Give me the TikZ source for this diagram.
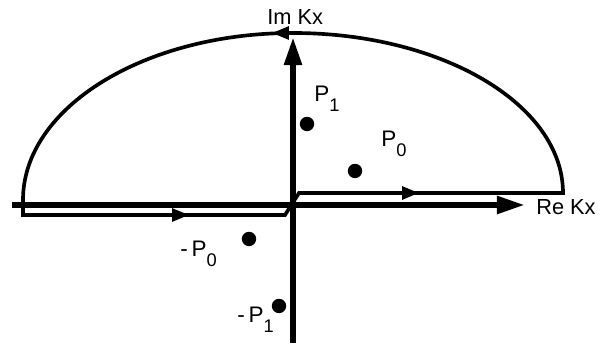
\documentclass[tikz,border=0pt]{standalone}
\usepackage{fontspec}
\setmainfont{Liberation Sans}
\usetikzlibrary{arrows.meta}

\tikzset{
    axis/.style={line width=4.2pt, -{Triangle[length=20pt, width=12pt]}},
    contour/.style={line width=2.6pt, line join=miter},
    flow/.style={line width=2.6pt, -{Triangle[length=12pt, width=9pt]}},
    pole/.style={circle, fill=black, inner sep=0pt, minimum size=0.36cm},
    axlabel/.style={font=\fontsize{15.5}{17}\selectfont, anchor=base west, inner sep=0pt},
    polelabel/.style={font=\fontsize{16}{18}\selectfont, anchor=base west, inner sep=0pt}
}
\newcommand{\polesub}[2]{#1P\raisebox{-7pt}{\fontsize{13}{13}\selectfont #2}}

\begin{document}
\begin{tikzpicture}[x=0.025cm, y=0.025cm]
    \useasboundingbox (0,0) rectangle (600,346);

    % Integration Contour
    \draw[contour] (299,153) -- (563,153)
        arc[start angle=0, end angle=90, x radius=270, y radius=160]
        arc[start angle=90, end angle=180, x radius=270, y radius=167]
        -- (23,131) -- (285,131) -- cycle;

    % Contour Direction Arrows
    \coordinate (lowA) at (170,131);
    \coordinate (lowB) at (189,131);
    \coordinate (upA) at (400,153);
    \coordinate (upB) at (419,153);
    \coordinate (topA) at (300,313);
    \coordinate (topB) at (272,313);
    \draw[flow] (lowA) -- (lowB);
    \draw[flow] (upA) -- (upB);
    \draw[flow] (topA) -- (topB);

    % Axes
    \coordinate (reLeft) at (12,141);
    \coordinate (reRight) at (525,141);
    \coordinate (imBottom) at (293,3);
    \coordinate (imTop) at (293,309);
    \draw[axis] (reLeft) -- (reRight);
    \draw[axis] (imBottom) -- (imTop);

    \node[axlabel] (imlabel) at (267,321) {Im Kx};
    \node[axlabel] (relabel) at (536,131) {Re Kx};

    % Poles
    \node[pole] (p1) at (307,222) {};
    \node[pole] (p0) at (355,175) {};
    \node[pole] (mp0) at (249,107) {};
    \node[pole] (mp1) at (279,40) {};

    \node[polelabel] (p1label) at (314,244) {\polesub{}{1}};
    \node[polelabel] (p0label) at (381,199) {\polesub{}{0}};
    \node[polelabel] (mp0label) at (180,89) {\polesub{-\,}{0}};
    \node[polelabel] (mp1label) at (237,23) {\polesub{-\,}{1}};
\end{tikzpicture}
\end{document}
